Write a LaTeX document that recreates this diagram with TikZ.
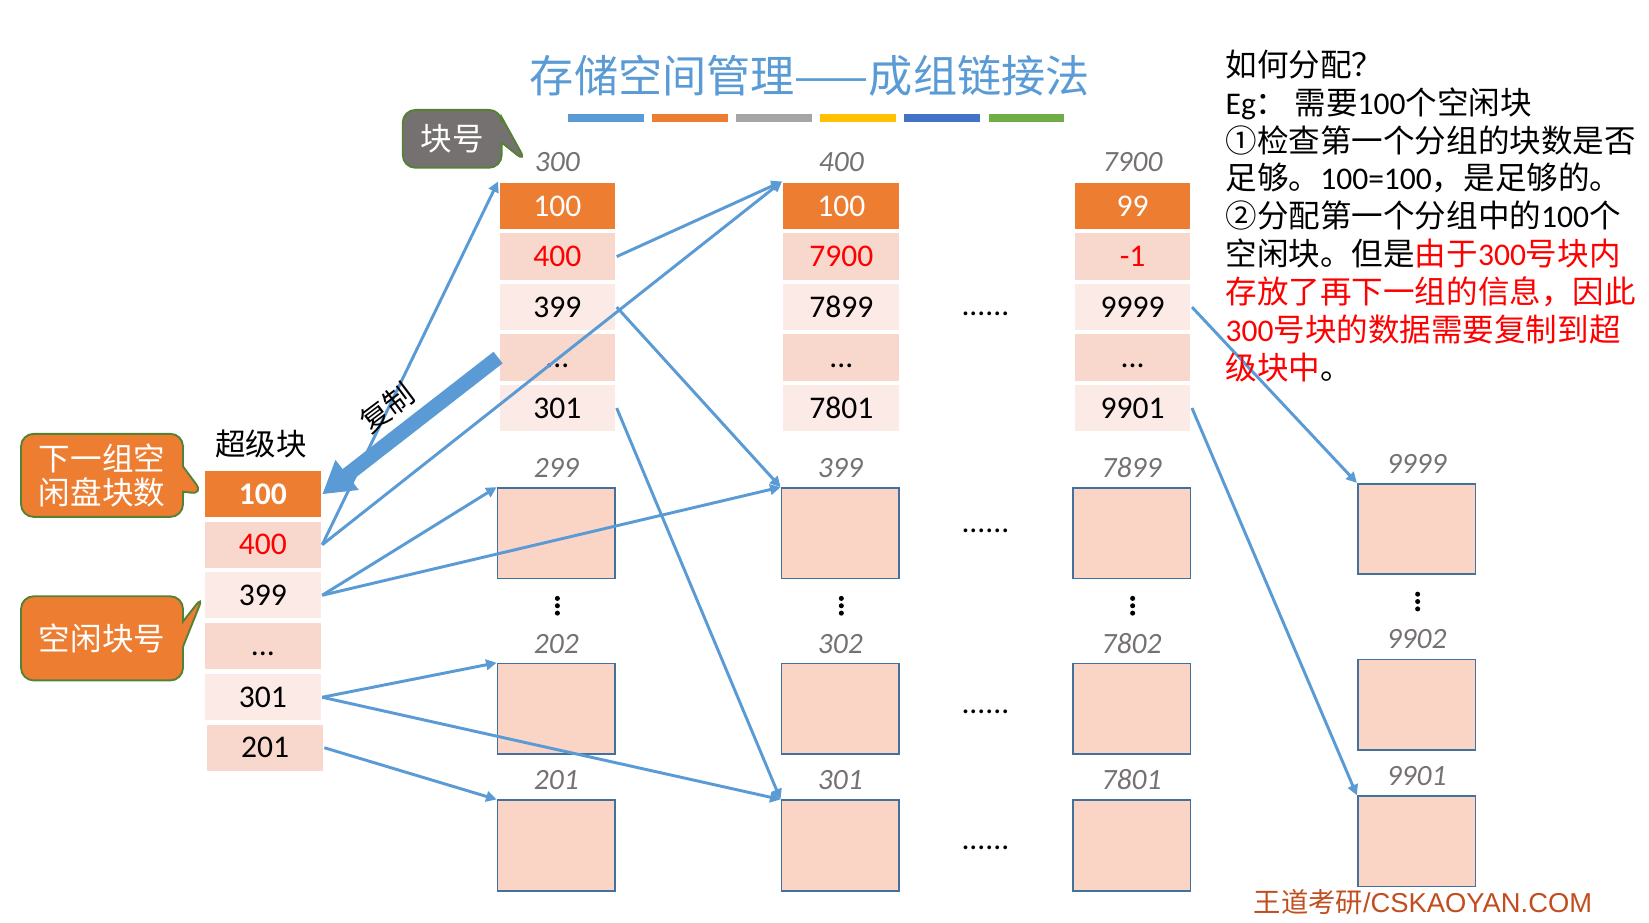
\documentclass[tikz,border=0pt]{standalone}
\usepackage{fontspec}
\setmainfont{Carlito}
\newfontfamily\cjk{Noto Sans CJK SC}
\newfontfamily\arialfont{Liberation Sans}
\usetikzlibrary{arrows.meta, positioning, shapes.callouts}
\definecolor{cblue}{HTML}{5B9BD5}
\definecolor{corange}{HTML}{ED7D31}
\definecolor{cgrey}{HTML}{A5A5A5}
\definecolor{cgold}{HTML}{FFC000}
\definecolor{cdblue}{HTML}{4472C4}
\definecolor{cgreen}{HTML}{70AD47}
\definecolor{cdgreen}{HTML}{548235}
\definecolor{cslate}{HTML}{767171}
\definecolor{cpinkd}{HTML}{F8D7CC}
\definecolor{cpinkl}{HTML}{FBEAE5}
\definecolor{cbox}{HTML}{FAD5C6}
\definecolor{cboxline}{HTML}{41719C}
\definecolor{cfoot}{HTML}{C04E1E}
\newcommand{\numtxt}[1]{{\rmfamily #1}}
\tikzset{
  every picture/.style={line width=1.4pt},
  cell/.style={fill=#1, minimum width=55pt, minimum height=22pt, inner sep=0pt, text height=9.5pt, text depth=0pt, font=\fontsize{15}{17}\selectfont},
  cell/.default=cpinkl,
  topcell/.style={cell=corange, text=white},
  nextcell/.style={cell=cpinkd, text=red},
  freeblk/.style={draw=cboxline, fill=cbox, line width=0.8pt, minimum width=56pt, minimum height=43pt, inner sep=0pt},
  blkno/.style={text=cslate, font=\fontsize{14}{16}\selectfont\itshape},
  link/.style={-{Triangle[length=5pt, width=5pt]}, draw=cblue, line width=1.4pt},
  copyarrow/.style={-{Triangle[length=15pt, width=17pt]}, draw=cblue, line width=7pt},
  talk/.style={rectangle callout, draw=cdgreen, line width=0.9pt, rounded corners=6pt, text=white, font=\cjk\fontsize{15}{16}\selectfont, align=center, inner sep=0pt, callout pointer width=12pt},
  dots/.style={font=\fontsize{15}{17}\selectfont, anchor=base},
  zh/.style={font=\cjk\fontsize{#1}{#1}\selectfont},
}

\begin{document}
\begin{tikzpicture}[x=0.5pt, y=-0.5pt]
  \useasboundingbox (0,0) rectangle (1568,877);
  \newcommand{\groupcol}[7]{%
    \node[topcell] (#1-1) at (#2,196) {#4};
    \node[nextcell] (#1-2) at (#2,244) {#5};
    \node[cell] (#1-3) at (#2,292) {#6};
    \node[cell=cpinkd] (#1-4) at (#2,340) {...};
    \node[cell] (#1-5) at (#2,388) {#7};
    \node[blkno, above=0.5pt of #1-1] (#1-no) {#3};
  }
  % ---- title and colour bars
  \node[zh=21, text=cblue] (title) at (770,72) {存储空间管理——成组链接法};
  \foreach \c [count=\i from 0] in {cblue,corange,cgrey,cgold,cdblue,cgreen}
    \fill[\c] (540+80*\i,108) rectangle ++(72,8);
  % ---- groups kept in blocks 300, 400, 7900
  \groupcol{g300}{530}{300}{100}{400}{399}{301}
  \groupcol{g400}{800}{400}{100}{7900}{7899}{7801}
  \groupcol{g7900}{1077}{7900}{99}{-1}{9999}{9901}
  % ---- free blocks
  \foreach \n/\x/\y in {299/529/507, 202/529/674, 201/529/804, 399/799/507, 302/799/674, 301/799/804,
      7899/1076/507, 7802/1076/674, 7801/1076/804, 9999/1347/503, 9902/1347/670, 9901/1347/800} {
    \node[freeblk] (b\n) at (\x,\y) {};
    \node[blkno, above=0.5pt of b\n] (b\n-no) {\n};
  }
  \foreach \x/\y in {530/576, 800/576, 1077/576, 1348/572}
    \foreach \d in {-7,0,7} \fill (\x,\y+\d) circle (1.2pt);
  \foreach \y in {300,506,678,808}
    \node[dots] (hd\y) at (937,\y) {......};
  % ---- super block
  \node[zh=14.5] (sbtitle) at (248,422) {超级块};
  \node[topcell, font=\fontsize{15}{17}\selectfont\bfseries] (sb-1) at (250,470) {100};
  \node[nextcell] (sb-2) at (250,518) {400};
  \node[cell] (sb-3) at (250,566) {399};
  \node[cell=cpinkd] (sb-4) at (250,614) {...};
  \node[cell] (sb-5) at (250,663) {301};
  \node[cell=cpinkd] (sb-6) at (252,711) {201};
  % ---- callouts
  \node[talk, fill=cslate, minimum width=47pt, minimum height=27.5pt, callout absolute pointer={(g300-no.west)}] (tipno) at (430,132) {块号};
  \node[talk, fill=corange, minimum width=77pt, minimum height=39.5pt, callout absolute pointer={(sb-1.west)}] (tipcount) at (97,452) {下一组空\\闲盘块数};
  \node[talk, fill=corange, minimum width=77pt, minimum height=40pt, callout absolute pointer={(sb-3.west)}] (tipfree) at (97,607) {空闲块号};
  % ---- links
  \draw[link] (sb-2.east) -- (g300-1.north west);
  \draw[link] (sb-2.east) -- (g400-1.north west);
  \draw[link] (g300-2.east) -- (g400-1.north west);
  \draw[link] (g300-3.east) -- (b399.north west);
  \draw[link] (g300-5.east) -- (b301.north west);
  \draw[link] (sb-3.east) -- (b299.north west);
  \draw[link] (sb-3.east) -- (b399.north west);
  \draw[link] (sb-5.east) -- (b202.north west);
  \draw[link] (sb-5.east) -- (b301.north west);
  \draw[link] (sb-6.east) -- (b201.north west);
  \draw[link] (g7900-3.east) -- (b9999.north west);
  \draw[link] (g7900-5.east) -- (b9901.north west);
  % ---- copy to super block
  \draw[copyarrow] (g300-4.west) -- (sb-1.east);
  \node[zh=14, rotate=37] (copytxt) at (368,388) {复制};
  % ---- explanation
  \node[anchor=north west, align=left, inner sep=0pt, font=\cjk\fontsize{15}{18}\selectfont] (howto) at (1164,46) {%
    如何分配？\\
    \numtxt{Eg}：\ 需要\numtxt{100}个空闲块\\
    ①检查第一个分组的块数是否\\
    足够。\numtxt{100=100}，是足够的。\\
    ②分配第一个分组中的\numtxt{100}个\\
    空闲块。但是{\color{red}由于\numtxt{300}号块内}\\
    {\color{red}存放了再下一组的信息，因此}\\
    {\color{red}\numtxt{300}号块的数据需要复制到超}\\
    {\color{red}级块中}。};
  \node[text=cfoot, font=\fontsize{13}{15}\selectfont] (footer) at (1353,858) {{\cjk 王道考研}{\arialfont /CSKAOYAN.COM}};
\end{tikzpicture}
\end{document}
